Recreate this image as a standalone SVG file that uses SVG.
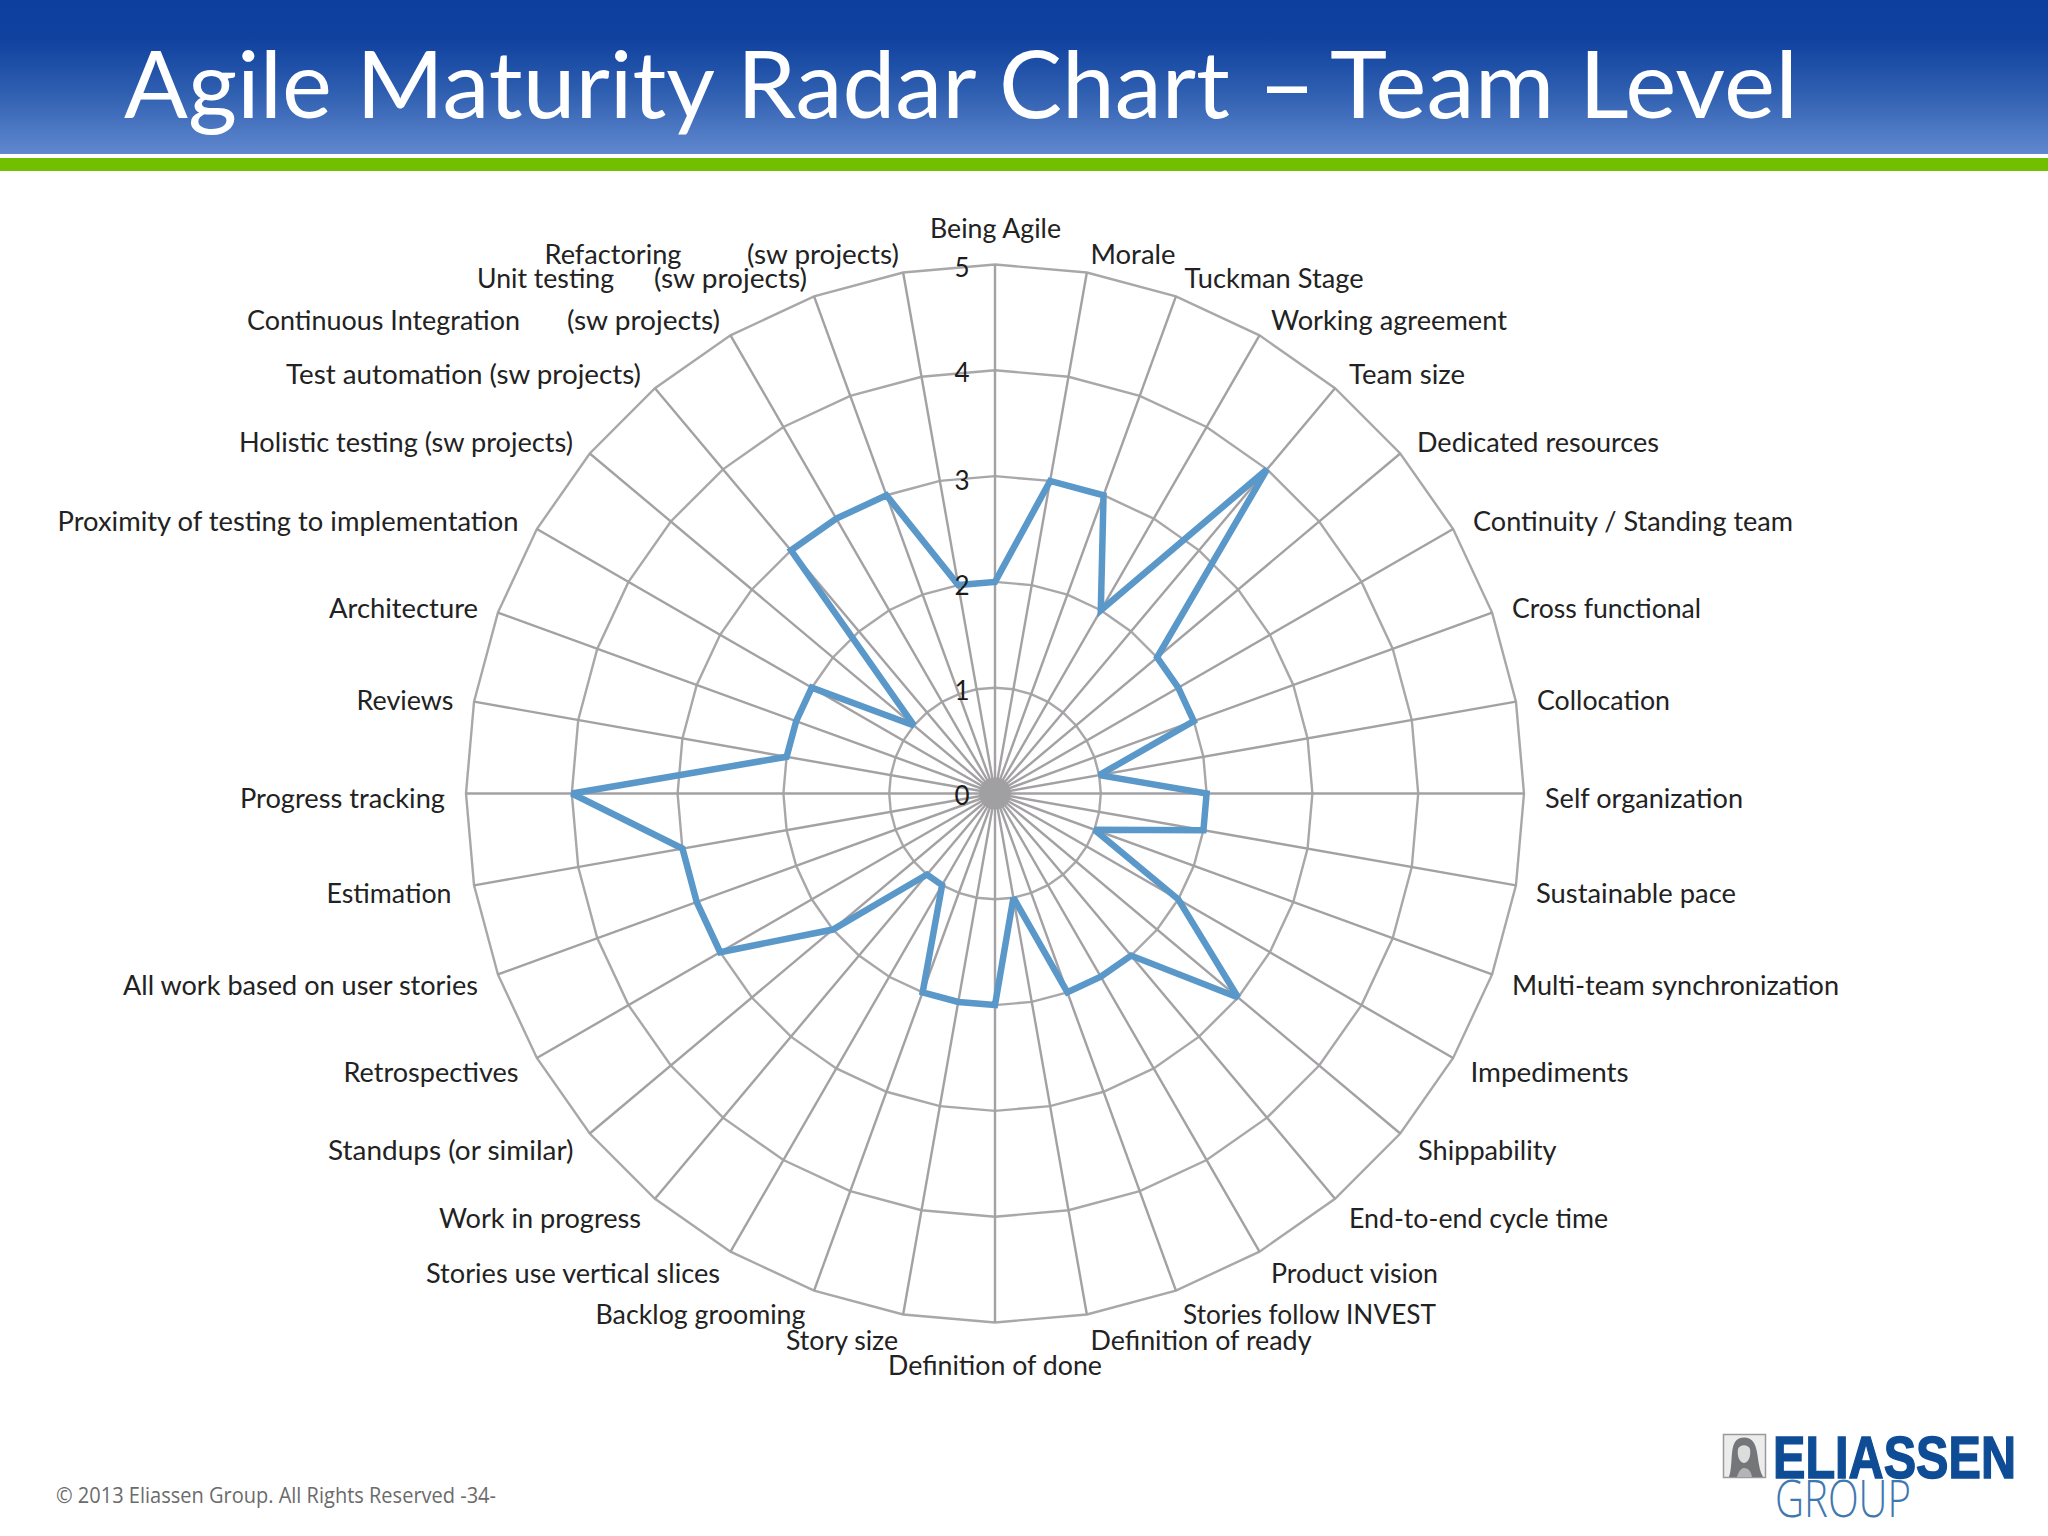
<svg xmlns="http://www.w3.org/2000/svg" width="2048" height="1536" viewBox="0 0 2048 1536">
<style>
text{font-family:"Lato","Noto Sans",sans-serif}
.l{font-size:27px;fill:#222222}
.n{font-size:26px;fill:#1c1c1c;text-anchor:middle}
.g{fill:none;stroke:#a9a7a9;stroke-width:2.4;vector-effect:non-scaling-stroke}
.s{stroke:#a3a1a3;stroke-width:2.4;vector-effect:non-scaling-stroke}
.d{fill:none;stroke:#5a98c9;stroke-width:6.5;stroke-linejoin:miter;stroke-miterlimit:2.5;vector-effect:non-scaling-stroke}
</style>
<defs>
<linearGradient id="hdr" x1="0" y1="0" x2="0" y2="1">
<stop offset="0" stop-color="#0d3f9f"/><stop offset=".25" stop-color="#0f419f"/><stop offset=".6" stop-color="#2f5fb0"/><stop offset="1" stop-color="#6088cf"/>
</linearGradient>
<polygon id="ring" class="g" points="0,-100 17.365,-98.481 34.202,-93.969 50,-86.603 64.279,-76.604 76.604,-64.279 86.603,-50 93.969,-34.202 98.481,-17.365 100,0 98.481,17.365 93.969,34.202 86.603,50 76.604,64.279 64.279,76.604 50,86.603 34.202,93.969 17.365,98.481 0,100 -17.365,98.481 -34.202,93.969 -50,86.603 -64.279,76.604 -76.604,64.279 -86.603,50 -93.969,34.202 -98.481,17.365 -100,0 -98.481,-17.365 -93.969,-34.202 -86.603,-50 -76.604,-64.279 -64.279,-76.604 -50,-86.603 -34.202,-93.969 -17.365,-98.481"/>
<line id="sp" class="s" x1="0" y1="0" x2="0" y2="-529"/>
</defs>
<rect width="2048" height="1536" fill="#ffffff"/>
<g id="header">
<rect width="2048" height="154" fill="url(#hdr)"/>
<rect y="158" width="2048" height="13" fill="#72bf00"/>
<text y="118" font-size="93" fill="#ffffff"><tspan x="124" textLength="1106" lengthAdjust="spacingAndGlyphs">Agile Maturity Radar Chart</tspan> <tspan x="1258" dy="2" font-size="100">–</tspan> <tspan x="1330" dy="-2" textLength="468" lengthAdjust="spacingAndGlyphs">Team Level</tspan></text>
</g>
<g id="grid" transform="translate(995 793.5)">
<use href="#ring" transform="scale(1.058)"/>
<use href="#ring" transform="scale(2.116)"/>
<use href="#ring" transform="scale(3.174)"/>
<use href="#ring" transform="scale(4.232)"/>
<use href="#ring" transform="scale(5.29)"/>
<use href="#sp"/><use href="#sp" transform="rotate(10)"/><use href="#sp" transform="rotate(20)"/><use href="#sp" transform="rotate(30)"/><use href="#sp" transform="rotate(40)"/><use href="#sp" transform="rotate(50)"/><use href="#sp" transform="rotate(60)"/><use href="#sp" transform="rotate(70)"/><use href="#sp" transform="rotate(80)"/><use href="#sp" transform="rotate(90)"/><use href="#sp" transform="rotate(100)"/><use href="#sp" transform="rotate(110)"/><use href="#sp" transform="rotate(120)"/><use href="#sp" transform="rotate(130)"/><use href="#sp" transform="rotate(140)"/><use href="#sp" transform="rotate(150)"/><use href="#sp" transform="rotate(160)"/><use href="#sp" transform="rotate(170)"/><use href="#sp" transform="rotate(180)"/><use href="#sp" transform="rotate(190)"/><use href="#sp" transform="rotate(200)"/><use href="#sp" transform="rotate(210)"/><use href="#sp" transform="rotate(220)"/><use href="#sp" transform="rotate(230)"/><use href="#sp" transform="rotate(240)"/><use href="#sp" transform="rotate(250)"/><use href="#sp" transform="rotate(260)"/><use href="#sp" transform="rotate(270)"/><use href="#sp" transform="rotate(280)"/><use href="#sp" transform="rotate(290)"/><use href="#sp" transform="rotate(300)"/><use href="#sp" transform="rotate(310)"/><use href="#sp" transform="rotate(320)"/><use href="#sp" transform="rotate(330)"/><use href="#sp" transform="rotate(340)"/><use href="#sp" transform="rotate(350)"/>
<circle r="16" fill="#a0a0a2"/>
</g>
<g id="data" transform="translate(995 793.5) scale(1.058)">
<polygon class="d" points="0,-200 52.1,-295.4 102.6,-281.9 100,-173.2 257.1,-306.4 153.2,-128.6 173.2,-100 187.9,-68.4 98.5,-17.4 200,0 197,34.7 94,34.2 173.2,100 229.8,192.8 128.6,153.2 100,173.2 68.4,187.9 17.4,98.5 0,200 -34.7,197 -68.4,187.9 -50,86.6 -64.3,76.6 -153.2,128.6 -259.8,150 -281.9,102.6 -295.4,52.1 -400,0 -197,-34.7 -187.9,-68.4 -173.2,-100 -76.6,-64.3 -192.8,-229.8 -150,-259.8 -102.6,-281.9 -34.7,-197"/>
</g>
<g id="scale">
<text class="n" x="962" y="277">5</text>
<text class="n" x="962" y="382">4</text>
<text class="n" x="962" y="490">3</text>
<text class="n" x="962" y="595">2</text>
<text class="n" x="962" y="700">1</text>
<text class="n" x="962" y="805">0</text>
</g>
<g id="labels" transform="translate(0 1)">
<text class="l" x="930" y="237" textLength="131" lengthAdjust="spacingAndGlyphs">Being Agile</text>
<text class="l" x="1090.5" y="263" textLength="85" lengthAdjust="spacingAndGlyphs">Morale</text>
<text class="l" x="1184.5" y="287" textLength="179" lengthAdjust="spacingAndGlyphs">Tuckman Stage</text>
<text class="l" x="1271" y="328.5" textLength="236" lengthAdjust="spacingAndGlyphs">Working agreement</text>
<text class="l" x="1349" y="383" textLength="116" lengthAdjust="spacingAndGlyphs">Team size</text>
<text class="l" x="1417" y="451" textLength="242" lengthAdjust="spacingAndGlyphs">Dedicated resources</text>
<text class="l" x="1473" y="529.5" textLength="320" lengthAdjust="spacingAndGlyphs">Continuity / Standing team</text>
<text class="l" x="1512" y="617" textLength="189" lengthAdjust="spacingAndGlyphs">Cross functional</text>
<text class="l" x="1537" y="708.5" textLength="133" lengthAdjust="spacingAndGlyphs">Collocation</text>
<text class="l" x="1545" y="806.5" textLength="198" lengthAdjust="spacingAndGlyphs">Self organization</text>
<text class="l" x="1536" y="901.5" textLength="200" lengthAdjust="spacingAndGlyphs">Sustainable pace</text>
<text class="l" x="1512" y="993.5" textLength="327" lengthAdjust="spacingAndGlyphs">Multi-team synchronization</text>
<text class="l" x="1470.5" y="1080.5" textLength="158" lengthAdjust="spacingAndGlyphs">Impediments</text>
<text class="l" x="1418" y="1159" textLength="138.5" lengthAdjust="spacingAndGlyphs">Shippability</text>
<text class="l" x="1349" y="1227" textLength="259" lengthAdjust="spacingAndGlyphs">End-to-end cycle time</text>
<text class="l" x="1271" y="1282" textLength="167" lengthAdjust="spacingAndGlyphs">Product vision</text>
<text class="l" x="1183" y="1322.5" textLength="253" lengthAdjust="spacingAndGlyphs">Stories follow INVEST</text>
<text class="l" x="1090.5" y="1348.5" textLength="221" lengthAdjust="spacingAndGlyphs">Definition of ready</text>
<text class="l" x="888" y="1373.5" textLength="214" lengthAdjust="spacingAndGlyphs">Definition of done</text>
<text class="l" x="786" y="1348.5" textLength="112" lengthAdjust="spacingAndGlyphs">Story size</text>
<text class="l" x="595.5" y="1322.5" textLength="210" lengthAdjust="spacingAndGlyphs">Backlog grooming</text>
<text class="l" x="426" y="1282" textLength="294" lengthAdjust="spacingAndGlyphs">Stories use vertical slices</text>
<text class="l" x="439" y="1227" textLength="202" lengthAdjust="spacingAndGlyphs">Work in progress</text>
<text class="l" x="328" y="1159" textLength="245.5" lengthAdjust="spacingAndGlyphs">Standups (or similar)</text>
<text class="l" x="343.5" y="1080.5" textLength="175" lengthAdjust="spacingAndGlyphs">Retrospectives</text>
<text class="l" x="123" y="993.5" textLength="355" lengthAdjust="spacingAndGlyphs">All work based on user stories</text>
<text class="l" x="326.5" y="901.5" textLength="125" lengthAdjust="spacingAndGlyphs">Estimation</text>
<text class="l" x="240" y="806.5" textLength="205" lengthAdjust="spacingAndGlyphs">Progress tracking</text>
<text class="l" x="356.5" y="708.5" textLength="97" lengthAdjust="spacingAndGlyphs">Reviews</text>
<text class="l" x="329" y="617" textLength="149" lengthAdjust="spacingAndGlyphs">Architecture</text>
<text class="l" x="57.5" y="529.5" textLength="461" lengthAdjust="spacingAndGlyphs">Proximity of testing to implementation</text>
<text class="l" x="239" y="451" textLength="334" lengthAdjust="spacingAndGlyphs">Holistic testing (sw projects)</text>
<text class="l" x="286" y="383" textLength="355" lengthAdjust="spacingAndGlyphs">Test automation (sw projects)</text>
<text class="l" x="247" y="328.5" textLength="273" lengthAdjust="spacingAndGlyphs">Continuous Integration</text>
<text class="l" x="567" y="328.5" textLength="153" lengthAdjust="spacingAndGlyphs">(sw projects)</text>
<text class="l" x="477" y="287" textLength="137" lengthAdjust="spacingAndGlyphs">Unit testing</text>
<text class="l" x="654" y="287" textLength="153" lengthAdjust="spacingAndGlyphs">(sw projects)</text>
<text class="l" x="544.5" y="263" textLength="137" lengthAdjust="spacingAndGlyphs">Refactoring</text>
<text class="l" x="747" y="263" textLength="152" lengthAdjust="spacingAndGlyphs">(sw projects)</text>
</g>
<g id="footer">
<text x="56" y="1503" font-size="21" fill="#6b6b6b" style="font-family:'Open Sans',sans-serif" textLength="440" lengthAdjust="spacingAndGlyphs">© 2013 Eliassen Group. All Rights Reserved -34-</text>
</g>
<g id="logo">
<rect x="1723.5" y="1434.5" width="42" height="43" fill="#ececec" stroke="#9a9a9a" stroke-width="1.5"/>
<path d="M1729 1477 C1733 1465 1730 1450 1735 1442 C1739 1436 1750 1436 1754 1443 C1759 1452 1757 1466 1763 1477 Z" fill="#74767a"/>
<path d="M1738 1449 C1740 1444 1748 1444 1750 1449 C1751 1456 1749 1462 1744 1463 C1739 1462 1737 1456 1738 1449 Z" fill="#dcdcdc"/>
<path d="M1737 1477 C1739 1470 1742 1468 1744 1468 C1748 1468 1751 1471 1752 1477 Z" fill="#b4b4b4"/>
<text x="1773" y="1478" font-size="60" font-weight="700" fill="#0f4c96" stroke="#0f4c96" stroke-width="1.5" style="font-family:'Liberation Sans',sans-serif" textLength="243" lengthAdjust="spacingAndGlyphs">ELIASSEN</text>
<text x="1775" y="1517" font-size="52" font-weight="300" fill="#3f78b0" style="font-family:'Open Sans',sans-serif" textLength="136" lengthAdjust="spacingAndGlyphs">GROUP</text>
</g>
</svg>
